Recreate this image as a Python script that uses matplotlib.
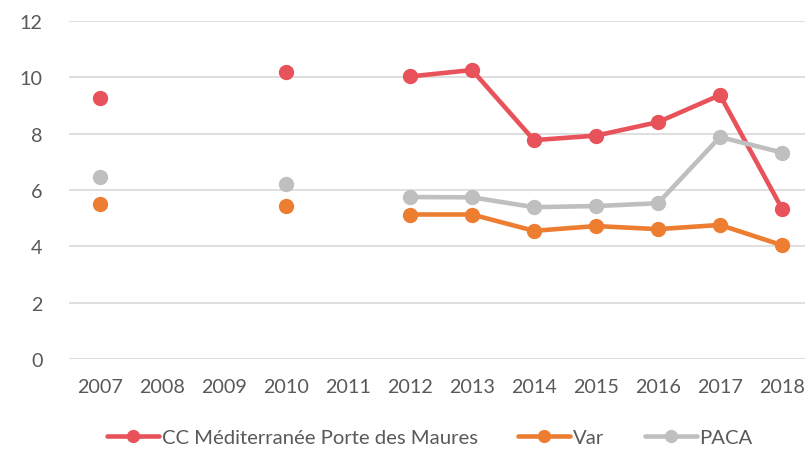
import numpy as np
import matplotlib.pyplot as plt

plt.rcParams['font.family'] = ['Lato', 'DejaVu Sans']

years = ['2007', '2008', '2009', '2010', '2011', '2012', '2013',
         '2014', '2015', '2016', '2017', '2018']
nan = np.nan
cc_mpm = [9.27, nan, nan, 10.18, nan, 10.03, 10.26, 7.77, 7.93, 8.41, 9.37, 5.34]
var = [5.50, nan, nan, 5.43, nan, 5.13, 5.13, 4.55, 4.72, 4.61, 4.76, 4.04]
paca = [6.46, nan, nan, 6.21, nan, 5.75, 5.74, 5.39, 5.43, 5.53, 7.88, 7.33]

series = [
    ('CC Méditerranée Porte des Maures', cc_mpm, '#E8525A'),
    ('Var', var, '#ED7D31'),
    ('PACA', paca, '#BFBFBF'),
]

fig = plt.figure(figsize=(8.05, 4.52), dpi=100)
ax = fig.add_axes([69 / 805, 1 - 360 / 452, 744 / 805, 338 / 452])

x = np.arange(len(years))
for name, vals, col in series:
    ax.plot(x, vals, color=col, linewidth=3.3, marker='o', markersize=10,
            label=name, solid_capstyle='round', solid_joinstyle='round')

ax.set_xlim(-0.5, len(years) - 0.5)
ax.set_ylim(0, 12)
ax.set_yticks(range(0, 13, 2))
ax.set_xticks(x)
ax.set_xticklabels(years)
ax.yaxis.grid(True, color='#D9D9D9', linewidth=1.2)
ax.set_axisbelow(True)
for s in ax.spines.values():
    s.set_visible(False)
ax.tick_params(length=0, labelsize=14.2, colors='#595959')
ax.tick_params(axis='x', pad=14)
ax.tick_params(axis='y', pad=19)

fig.legend(loc='center left', bbox_to_anchor=(107 / 805, 1 - 438 / 452), ncol=3,
           frameon=False, fontsize=14.6, labelcolor='#595959', markerscale=0.85,
           borderpad=0, borderaxespad=0,
           handlelength=2.55, handletextpad=0.15, columnspacing=2.0)

fig.savefig('out.png', dpi=100)
